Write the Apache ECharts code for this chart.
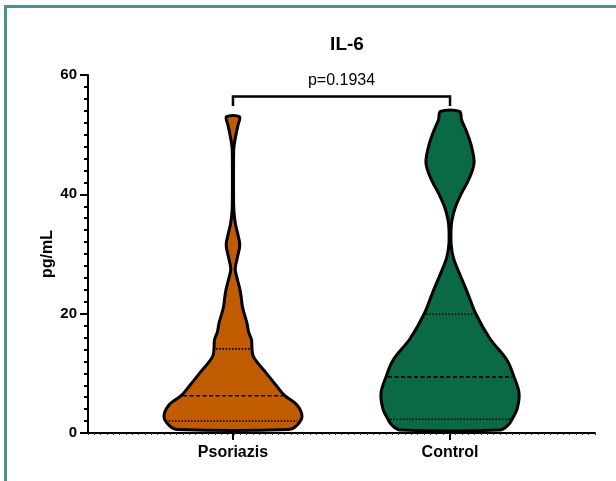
<!DOCTYPE html>
<html lang="en">
<head>
    <meta charset="UTF-8">
    <title>IL-6 violin</title>
    <script src="https://cdn.jsdelivr.net/npm/echarts@6/dist/echarts.min.js"></script>
    <style>
        html, body { margin: 0; padding: 0; background: #fff; }
    </style>
</head>
<body>
<div id="main" style="width: 616px;height:481px;"></div>
</body>
</html>

<script type="text/javascript">
    // 数据
    var groups = ['Psoriazis', 'Control'];
    var colors = ['#C15C00', '#0A6A45'];

    // 小提琴轮廓: 每个水平 (pg/mL) 对应的相对密度
    var psoLevels = [0.6, 1.3, 2.8, 4.7, 6.3, 8.0, 10.0, 12.0, 13.0, 14.1, 15.6, 17.0, 18.4, 21.1, 22.8, 24.0, 26.0, 27.5, 29.5, 31.5, 33.2, 35.0, 37.0, 39.0, 46.0, 48.0, 50.0, 51.6, 53.0];
    var psoDensity = [56, 64, 69, 64, 51.5, 43, 33.5, 23.5, 20, 19, 18.5, 15.5, 14, 9.5, 8.2, 7, 4, 2.2, 4.5, 6.8, 5, 2.5, 1, 0.6, 0.6, 1, 3, 5, 6.5];

    var ctlLevels = [0.5, 1.3, 2.3, 4.0, 6.7, 9.4, 12.2, 15.8, 19.9, 23.7, 26.5, 29.3, 31.5, 34.0, 35.7, 37.9, 40.2, 42.4, 45.2, 48.0, 50.3, 52.5, 53.9];
    var ctlDensity = [50, 58, 62, 67, 69, 64, 57, 40, 26, 17, 10, 3.5, 1.2, 1.0, 2, 5.5, 11.5, 18.5, 24, 21.5, 17, 11.5, 9.5];

    // 四分位数 [Q1, 中位数, Q3]
    var quartiles = [
        [2.0, 6.25, 14.1],
        [2.3, 9.4, 19.9]
    ];

    var pValue = 'p=0.1934';
    var bracketLow = 54.8;
    var bracketHigh = 56.4;

    var yTicks = [0, 20, 40, 60];

    var profiles = [
        {levels: psoLevels, density: psoDensity},
        {levels: ctlLevels, density: ctlDensity}
    ];

    var maxDensity = 69;
    var halfWidthFrac = 0.318;   // 最宽处半宽 / 组间距

    function densityAt(p, v) {
        var L = p.levels, D = p.density;
        if (v <= L[0]) return D[0];
        for (var i = 1; i < L.length; i++) {
            if (v <= L[i]) {
                var t = (v - L[i - 1]) / (L[i] - L[i - 1]);
                return D[i - 1] + t * (D[i] - D[i - 1]);
            }
        }
        return D[D.length - 1];
    }

    function renderViolin(params, api) {
        var gi = api.value(0);
        var p = profiles[gi];
        var unit = api.size([1, 0])[0];
        var k = unit * halfWidthFrac / maxDensity;
        var left = [], right = [];
        for (var i = 0; i < p.levels.length; i++) {
            var c = api.coord([gi, p.levels[i]]);
            var w = p.density[i] * k;
            left.push([c[0] - w, c[1]]);
            right.unshift([c[0] + w, c[1]]);
        }
        var children = [{
            type: 'polygon',
            shape: {points: left.concat(right), smooth: 0.35},
            style: {fill: colors[gi], stroke: '#000', lineWidth: 3, lineJoin: 'round'}
        }];
        quartiles[gi].forEach(function (q, qi) {
            var c = api.coord([gi, q]);
            var w = densityAt(p, q) * k - 2;
            children.push({
                type: 'line',
                shape: {x1: c[0] - w, y1: c[1], x2: c[0] + w, y2: c[1]},
                style: {
                    stroke: '#000',
                    lineWidth: 1.6,
                    lineDash: qi === 1 ? [4, 2.5] : [1.6, 1.6]
                }
            });
        });
        return {type: 'group', children: children};
    }

    function renderBracket(params, api) {
        var a = api.coord([0, bracketLow]);
        var b = api.coord([0, bracketHigh]);
        var c = api.coord([1, bracketHigh]);
        var d = api.coord([1, bracketLow]);
        return {
            type: 'group',
            children: [{
                type: 'polyline',
                shape: {points: [a, b, c, d]},
                style: {fill: null, stroke: '#000', lineWidth: 2.5}
            }, {
                type: 'text',
                style: {
                    text: pValue,
                    x: (b[0] + c[0]) / 2,
                    y: b[1] - 16,
                    align: 'center',
                    verticalAlign: 'middle',
                    fill: '#000',
                    font: '16px "Liberation Sans", Arial, sans-serif'
                }
            }]
        };
    }

    var myChart = echarts.init(document.getElementById('main'));
    var font = '"Liberation Sans", Arial, sans-serif';

    var option = {
        backgroundColor: '#fff',
        animation: false,
        title: {
            text: 'IL-6',
            left: 342,
            top: 30,
            textAlign: 'center',
            textStyle: {fontFamily: font, fontSize: 19, fontWeight: 'bold', color: '#000'}
        },
        graphic: [{
            type: 'rect',
            shape: {x: 5.5, y: 6.5, width: 700, height: 600},
            style: {fill: null, stroke: '#4E8F8F', lineWidth: 3},
            silent: true
        }],
        grid: {left: 88, right: 21, top: 75, bottom: 48},
        xAxis: [{
            type: 'value',
            min: -0.668,
            max: 1.668,
            splitLine: {show: false},
            axisLine: {show: true, onZero: false, lineStyle: {color: '#000', width: 2}},
            axisTick: {show: true, customValues: [0, 1], length: 7, lineStyle: {color: '#000', width: 2}},
            axisLabel: {
                customValues: [0, 1],
                formatter: function (v) { return groups[Math.round(v)]; },
                margin: 12,
                fontFamily: font, fontSize: 16, fontWeight: 'bold', color: '#000'
            }
        }, {
            type: 'value',
            position: 'bottom',
            min: 0,
            max: 80,
            interval: 1,
            splitLine: {show: false},
            axisLine: {show: false, onZero: false},
            axisTick: {show: true, length: 2, lineStyle: {color: '#333', width: 1}},
            axisLabel: {show: false}
        }],
        yAxis: {
            type: 'value',
            min: yTicks[0],
            max: yTicks[yTicks.length - 1],
            interval: 20,
            name: 'pg/mL',
            nameLocation: 'middle',
            nameGap: 32,
            nameMoveOverlap: false,
            nameTextStyle: {fontFamily: font, fontSize: 16, fontWeight: 'bold', color: '#000'},
            splitLine: {show: false},
            axisLine: {show: true, onZero: false, lineStyle: {color: '#000', width: 2}},
            axisTick: {show: true, length: 8, lineStyle: {color: '#000', width: 2}},
            minorTick: {show: true, splitNumber: 10, length: 4, lineStyle: {color: '#000', width: 2}},
            axisLabel: {margin: 11, fontFamily: font, fontSize: 15, fontWeight: 'bold', color: '#000'}
        },
        series: [{
            type: 'custom',
            name: 'violin',
            xAxisIndex: 0,
            renderItem: renderViolin,
            data: [[0], [1]],
            clip: false
        }, {
            type: 'custom',
            name: 'bracket',
            xAxisIndex: 0,
            renderItem: renderBracket,
            data: [[0]],
            clip: false
        }]
    };

    myChart.setOption(option);
</script>
